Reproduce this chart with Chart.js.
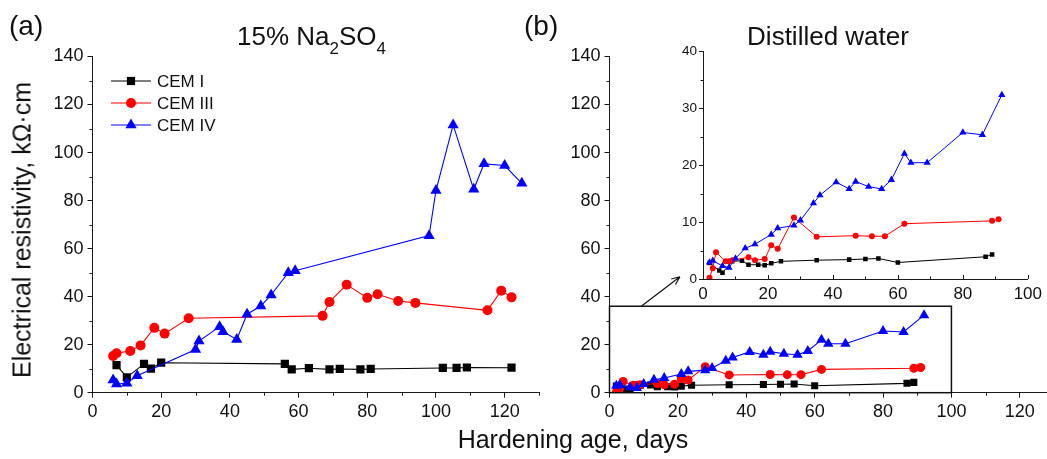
<!DOCTYPE html>
<html>
<head>
<meta charset="utf-8">
<script src="https://cdn.jsdelivr.net/npm/chart.js@4.4.1/dist/chart.umd.min.js"></script>
<style>
  html, body { margin: 0; padding: 0; background: #fff; overflow: hidden; }
  #fig { position: relative; width: 1047px; height: 459px; overflow: hidden;
         font-family: "Liberation Sans", Arial, sans-serif; color: #111; }
  #fig canvas { position: absolute; }
  .t { position: absolute; white-space: nowrap; line-height: 1; }
</style>
</head>
<body>
<div id="fig">
  <canvas id="cNa" width="560" height="459" style="left:0;top:0"></canvas>
  <canvas id="cDw" width="520" height="459" style="left:540px;top:0"></canvas>
  <canvas id="cDwZoom" width="427" height="290" style="left:620px;top:20px"></canvas>

  <div class="t" style="left:9px;top:12px;font-size:28px">(a)</div>
  <div class="t" style="left:237px;top:23px;font-size:26px">15% Na<span style="font-size:17px;position:relative;top:9px">2</span>SO<span style="font-size:17px;position:relative;top:9px">4</span></div>
  <div class="t" style="left:524px;top:12px;font-size:28px">(b)</div>
  <div class="t" style="left:728px;top:23px;width:200px;text-align:center;font-size:26px">Distilled water</div>
  <div class="t" style="left:373px;top:427px;width:400px;text-align:center;font-size:25px">Hardening age, days</div>
  <div class="t" style="left:22px;top:230px;width:400px;text-align:center;font-size:25px;transform:translate(-50%,-50%) rotate(-90deg)">Electrical resistivity, kΩ·cm</div>
</div>

<script>
// ---- 15% Na2SO4: hardening age (days) and resistivity (kΩ·cm) ----
const naDaysI   = [7, 10, 15, 17, 20, 56, 58, 63, 69, 72, 78, 81, 102, 106, 109, 122];
const naResI    = [11.5, 6.4, 12, 10, 12.5, 12, 9.7, 10.2, 9.7, 9.9, 9.7, 9.9, 10.3, 10.3, 10.5, 10.4];
const naDaysIII = [6, 7, 11, 14, 18, 21, 28, 67, 69, 74, 80, 83, 89, 94, 115, 119, 122];
const naResIII  = [15.3, 16.4, 17.4, 19.7, 27, 24.6, 31, 32, 37.8, 45, 39.5, 41, 38.2, 37.4, 34.3, 42.5, 39.7];
const naDaysIV  = [6, 7, 10, 13, 30, 31, 37, 38, 42, 45, 49, 52, 57, 59, 98, 100, 105, 111, 114, 120, 125];
const naResIV   = [5.3, 3.6, 3.9, 7.1, 18, 21.5, 27.5, 25.4, 22.2, 32.7, 36.1, 40.7, 50, 50.8, 65.4, 84.2, 111.5, 84.7, 95.3, 94.6, 87.2];

// ---- Distilled water ----
const dwDaysI   = [2, 5, 6, 9, 12, 14, 17, 19, 21, 24, 35, 45, 50, 54, 60, 87, 89];
const dwResI    = [2.8, 1.5, 1.1, 3.1, 3.2, 2.5, 2.5, 2.4, 2.75, 3.1, 3.3, 3.4, 3.5, 3.6, 2.9, 3.9, 4.3];
const dwDaysIII = [2, 3, 4, 7, 8, 9, 14, 16, 19, 21, 23, 28, 35, 47, 52, 56, 62, 89, 91];
const dwResIII  = [0.2, 1.9, 4.7, 3.1, 3.1, 3.3, 3.8, 3.3, 3.5, 5.9, 5.3, 10.8, 7.4, 7.6, 7.5, 7.5, 9.7, 10.2, 10.5];
const dwDaysIV  = [2, 3, 6, 8, 10, 13, 16, 21, 23, 28, 30, 34, 36, 41, 45, 47, 51, 55, 58, 62, 64, 69, 80, 86, 92];
const dwResIV   = [2.9, 3.2, 2.3, 2.0, 3.6, 5.4, 6.1, 7.8, 8.9, 9.4, 10.3, 13.3, 14.7, 17, 15.8, 17.1, 16.2, 15.8, 17.4, 22, 20.4, 20.4, 25.7, 25.3, 32.3];

// ---- series names and tick values ----
const seriesNames   = ['CEM I', 'CEM III', 'CEM IV'];
const ageTicks      = [0, 20, 40, 60, 80, 100, 120];
const ageMinor      = [10, 30, 50, 70, 90, 110, 130];
const resTicks      = [0, 20, 40, 60, 80, 100, 120, 140];
const resMinor      = [10, 30, 50, 70, 90, 110, 130];
const zoomAgeTicks  = [0, 20, 40, 60, 80, 100];
const zoomAgeMinor  = [10, 30, 50, 70, 90];
const zoomResTicks  = [0, 10, 20, 30, 40];
const zoomResMinor  = [5, 15, 25, 35];

const FONT = '"Liberation Sans", Arial, sans-serif';
const AXIS = '#1a1a1a';
const TEXT = '#111';
const STYLES = [
  { color: '#000000', point: 'rect' },
  { color: '#ff0000', point: 'circle' },
  { color: '#0000ff', point: 'triangle' }
];

function toPoints(days, res) { return days.map((d, i) => ({ x: d, y: res[i] })); }

function makeDatasets(groups, radii, lineWidth) {
  return groups.map((g, k) => ({
    label: seriesNames[k],
    data: toPoints(g[0], g[1]),
    borderColor: STYLES[k].color,
    backgroundColor: STYLES[k].color,
    pointBackgroundColor: STYLES[k].color,
    pointBorderColor: STYLES[k].color,
    pointBorderWidth: 0,
    pointStyle: STYLES[k].point,
    pointRadius: radii[k],
    borderWidth: lineWidth,
    tension: 0,
    order: 3 - k
  }));
}

function axis(o) {
  return {
    type: 'linear', min: o.min, max: o.max, offset: false,
    afterBuildTicks: s => { s.ticks = o.ticks.map(v => ({ value: v })); },
    afterFit: s => { if (o.horizontal) s.height = o.size; else s.width = o.size; },
    border: { display: true, color: AXIS, width: 1 },
    grid: { display: true, drawOnChartArea: false, drawTicks: o.tickLen > 0,
            tickLength: Math.max(o.tickLen, 0), color: AXIS, tickColor: AXIS, lineWidth: 1 },
    ticks: { font: { family: FONT, size: o.font }, color: TEXT, padding: o.pad,
             maxRotation: 0, autoSkip: false }
  };
}

// short ticks between the labelled ones (negative length points into the plot)
const minorTicks = {
  id: 'minorTicks',
  afterDraw(chart, args, opts) {
    const ctx = chart.ctx, area = chart.chartArea;
    ctx.save();
    ctx.strokeStyle = AXIS;
    ctx.lineWidth = 1;
    (opts.marks || []).forEach(m => {
      const sc = chart.scales[m.axis];
      m.values.forEach(v => {
        const p = Math.round(sc.getPixelForValue(v)) + 0.5;
        ctx.beginPath();
        if (sc.isHorizontal()) {
          ctx.moveTo(p, area.bottom); ctx.lineTo(p, area.bottom + m.len);
        } else {
          ctx.moveTo(area.left, p); ctx.lineTo(area.left - m.len, p);
        }
        ctx.stroke();
      });
    });
    ctx.restore();
  }
};

// legend with line + marker samples
const lineLegend = {
  id: 'lineLegend',
  afterDraw(chart, args, opts) {
    if (!opts.show) return;
    const ctx = chart.ctx;
    ctx.save();
    chart.data.datasets.forEach((ds, i) => {
      const y = opts.y + i * opts.gap;
      ctx.strokeStyle = ds.borderColor;
      ctx.lineWidth = 1;
      ctx.beginPath();
      ctx.moveTo(opts.x0, y); ctx.lineTo(opts.x1, y);
      ctx.stroke();
      const cx = (opts.x0 + opts.x1) / 2, r = ds.pointRadius;
      ctx.fillStyle = ds.backgroundColor;
      ctx.beginPath();
      if (ds.pointStyle === 'rect') {
        const s = Math.SQRT1_2 * r;
        ctx.rect(cx - s, y - s, 2 * s, 2 * s);
      } else if (ds.pointStyle === 'circle') {
        ctx.arc(cx, y, r, 0, Math.PI * 2);
      } else {
        ctx.moveTo(cx, y - r);
        ctx.lineTo(cx + 0.866 * r, y + 0.5 * r);
        ctx.lineTo(cx - 0.866 * r, y + 0.5 * r);
        ctx.closePath();
      }
      ctx.fill();
      ctx.fillStyle = TEXT;
      ctx.font = opts.font + 'px ' + FONT;
      ctx.textBaseline = 'middle';
      ctx.textAlign = 'left';
      ctx.fillText(ds.label, opts.tx, y + 1);
    });
    ctx.restore();
  }
};

// outline of the enlarged region and the pointer to the inset
const zoomFrame = {
  id: 'zoomFrame',
  afterDatasetsDraw(chart, args, o) {
    if (!o.show) return;
    const ctx = chart.ctx, xs = chart.scales.x, ys = chart.scales.y;
    const x0 = xs.getPixelForValue(o.x0), x1 = xs.getPixelForValue(o.x1);
    const y0 = ys.getPixelForValue(o.y0), y1 = ys.getPixelForValue(o.y1);
    ctx.save();
    ctx.strokeStyle = '#111';
    ctx.lineWidth = 1.5;
    ctx.strokeRect(x0, y1, x1 - x0, y0 - y1);
    const ax = xs.getPixelForValue(o.a0[0]), ay = ys.getPixelForValue(o.a0[1]);
    const bx = xs.getPixelForValue(o.a1[0]), by = ys.getPixelForValue(o.a1[1]);
    ctx.lineWidth = 1.2;
    ctx.beginPath();
    ctx.moveTo(ax, ay); ctx.lineTo(bx, by);
    const ang = Math.atan2(by - ay, bx - ax), L = 9;
    ctx.moveTo(bx, by); ctx.lineTo(bx - L * Math.cos(ang - 0.4), by - L * Math.sin(ang - 0.4));
    ctx.moveTo(bx, by); ctx.lineTo(bx - L * Math.cos(ang + 0.4), by - L * Math.sin(ang + 0.4));
    ctx.stroke();
    ctx.restore();
  }
};

function baseOptions(extra) {
  return Object.assign({
    responsive: false,
    animation: false,
    events: [],
    devicePixelRatio: 1
  }, extra);
}

// (a) 15% Na2SO4
new Chart(document.getElementById('cNa'), {
  type: 'line',
  data: { datasets: makeDatasets([[naDaysI, naResI], [naDaysIII, naResIII], [naDaysIV, naResIV]], [5.8, 5, 6.5], 1.1) },
  options: baseOptions({
    layout: { padding: { top: 56.5, right: 21, bottom: 0, left: 0 } },
    scales: {
      x: axis({ horizontal: true, min: 0, max: 130, ticks: ageTicks, size: 459 - 392.7, tickLen: 5, pad: 4, font: 18 }),
      y: axis({ horizontal: false, min: 0, max: 140, ticks: resTicks, size: 92.5, tickLen: 5, pad: 4, font: 18 })
    },
    plugins: {
      legend: { display: false }, tooltip: { enabled: false },
      minorTicks: { marks: [{ axis: 'x', values: ageMinor, len: 3 }, { axis: 'y', values: resMinor, len: 3 }] },
      lineLegend: { show: true, x0: 111, x1: 151, tx: 157, y: 81, gap: 22, font: 17 },
      zoomFrame: { show: false }
    }
  }),
  plugins: [minorTicks, lineLegend, zoomFrame]
});

// (b) distilled water, full range
new Chart(document.getElementById('cDw'), {
  type: 'line',
  data: { datasets: makeDatasets([[dwDaysI, dwResI], [dwDaysIII, dwResIII], [dwDaysIV, dwResIV]], [5, 4.5, 6], 1.1) },
  options: baseOptions({
    layout: { padding: { top: 56.5, right: 4, bottom: 0, left: 0 } },
    scales: {
      x: axis({ horizontal: true, min: 0, max: 130, ticks: ageTicks, size: 459 - 392.7, tickLen: 5, pad: 4, font: 18 }),
      y: axis({ horizontal: false, min: 0, max: 140, ticks: resTicks, size: 69.5, tickLen: 5, pad: 4, font: 18 })
    },
    plugins: {
      legend: { display: false }, tooltip: { enabled: false },
      minorTicks: { marks: [{ axis: 'x', values: ageMinor, len: 3 }, { axis: 'y', values: resMinor, len: 3 }] },
      lineLegend: { show: false },
      zoomFrame: { show: true, x0: 0, x1: 100, y0: 0, y1: 36, a0: [9.3, 36], a1: [20.6, 48.3] }
    }
  }),
  plugins: [minorTicks, lineLegend, zoomFrame]
});

// (b) inset, first 100 days enlarged
new Chart(document.getElementById('cDwZoom'), {
  type: 'line',
  data: { datasets: makeDatasets([[dwDaysI, dwResI], [dwDaysIII, dwResIII], [dwDaysIV, dwResIV]], [3.2, 3, 4.2], 1) },
  options: baseOptions({
    layout: { padding: { top: 31, right: 9.5, bottom: 0, left: 0 } },
    scales: {
      x: axis({ horizontal: true, min: 0, max: 100, ticks: zoomAgeTicks, size: 290 - 259, tickLen: 0, pad: 5, font: 17 }),
      y: axis({ horizontal: false, min: 0, max: 40, ticks: zoomResTicks, size: 83, tickLen: 4, pad: 2, font: 13.5 })
    },
    plugins: {
      legend: { display: false }, tooltip: { enabled: false },
      minorTicks: { marks: [
        { axis: 'x', values: zoomAgeTicks, len: -4 },
        { axis: 'x', values: zoomAgeMinor, len: -2.5 },
        { axis: 'y', values: zoomResMinor, len: 2.5 }
      ] },
      lineLegend: { show: false },
      zoomFrame: { show: false }
    }
  }),
  plugins: [minorTicks, lineLegend, zoomFrame]
});
</script>
</body>
</html>
